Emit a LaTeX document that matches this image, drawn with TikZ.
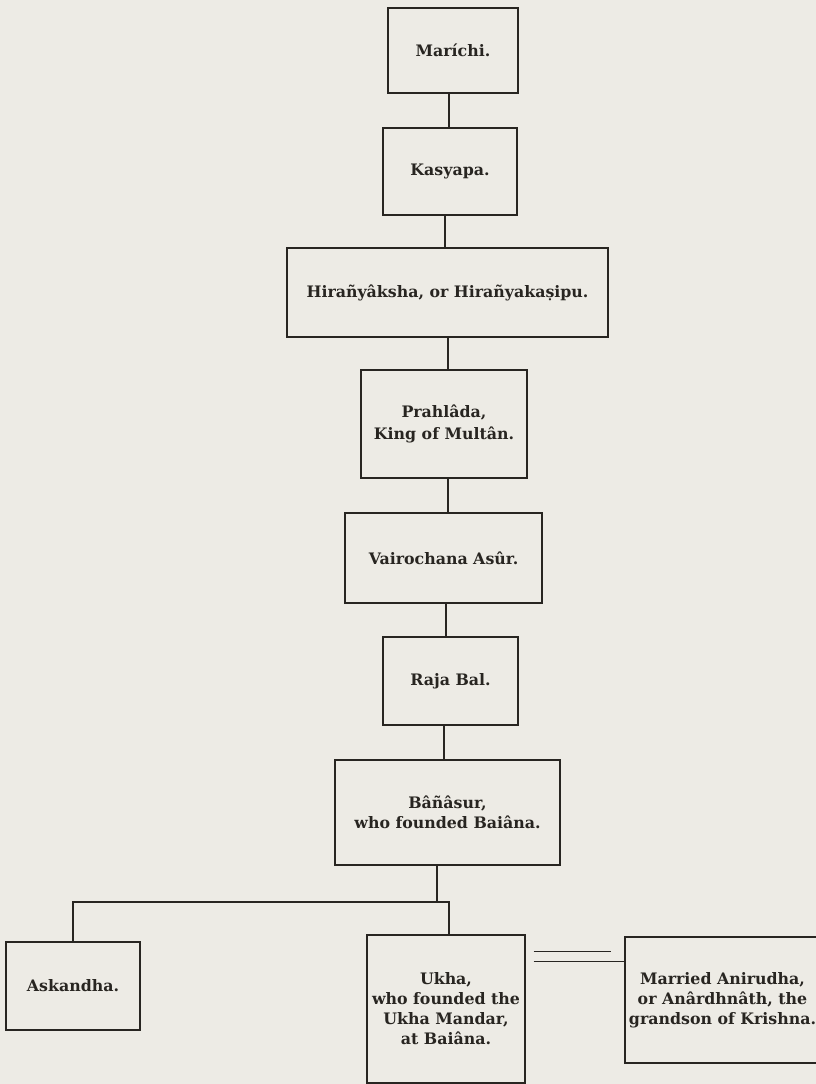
\documentclass[tikz,border=0pt]{standalone}
\usepackage{fontspec}
\setmainfont{DejaVu Serif}
\definecolor{paper}{RGB}{237,235,229}
\definecolor{ink}{RGB}{40,37,33}
\tikzset{
  person/.style={draw=ink, line width=1.3pt, fill=none, text=ink, inner sep=0pt, align=center,
    font=\fontsize{15.8}{20}\selectfont\bfseries},
  link/.style={draw=ink, line width=1.4pt}
}
\begin{document}
\begin{tikzpicture}[x=1pt,y=-1pt]
\fill[paper] (0,0) rectangle (816,1084);
\useasboundingbox (0,0) rectangle (816,1084);
\begin{scope}
\clip (0,0) rectangle (816,1084);
\node[person, minimum width=130pt, minimum height=85pt] (mar) at (453,50.5) {Maríchi.};
\node[person, minimum width=134pt, minimum height=87pt] (kas) at (450,171.5) {Kasyapa.};
\node[person, minimum width=321pt, minimum height=89pt] (hir) at (447.5,292.5) {Hirañyâksha, or Hirañyakaṣipu.};
\node[person, minimum width=166pt, minimum height=108pt] (pra) at (444,424) {Prahlâda,\\[2pt]King of Multân.};
\node[person, minimum width=197pt, minimum height=90pt] (vai) at (443.5,558) {Vairochana Asûr.};
\node[person, minimum width=135pt, minimum height=88pt] (raj) at (450.5,681) {Raja Bal.};
\node[person, minimum width=225pt, minimum height=105pt] (ban) at (447.5,812.5) {Bâñâsur,\\who founded Baiâna.};
\node[person, minimum width=134pt, minimum height=88pt] (ask) at (73,986) {Askandha.};
\node[person, minimum width=158pt, minimum height=148pt] (ukh) at (446,1009) {Ukha,\\who founded the\\Ukha Mandar,\\at Baiâna.};
\node[person, minimum width=195pt, minimum height=126pt] (ani) at (722.5,1000) {Married Anirudha,\\or Anârdhnâth, the\\grandson of Krishna.};
\end{scope}
% vertical line of descent
\draw[link] ([xshift=-4pt]mar.south) -- ([xshift=-4pt]mar.south |- kas.north);
\draw[link] ([xshift=-5pt]kas.south) -- ([xshift=-5pt]kas.south |- hir.north);
\draw[link] ([xshift=0.5pt]hir.south) -- ([xshift=0.5pt]hir.south |- pra.north);
\draw[link] ([xshift=4pt]pra.south) -- ([xshift=4pt]pra.south |- vai.north);
\draw[link] ([xshift=2.5pt]vai.south) -- ([xshift=2.5pt]vai.south |- raj.north);
\draw[link] ([xshift=-6.5pt]raj.south) -- ([xshift=-6.5pt]raj.south |- ban.north);
% branching to the children
\coordinate (j) at (437,902);
\draw[link] ([xshift=-10.5pt]ban.south) -- (j);
\draw[link] (ask.north) |- (j);
\draw[link] ([xshift=3pt]ukh.north) |- (j);
% marriage
\path (ukh.north east) ++(8,17) coordinate (m1);
\path (ukh.north east) ++(8,27) coordinate (m2);
\draw[link, line width=1.1pt] (m1) -- ++(77,0);
\draw[link, line width=1.1pt] (m2) -- (m2 -| ani.west);
\end{tikzpicture}
\end{document}
